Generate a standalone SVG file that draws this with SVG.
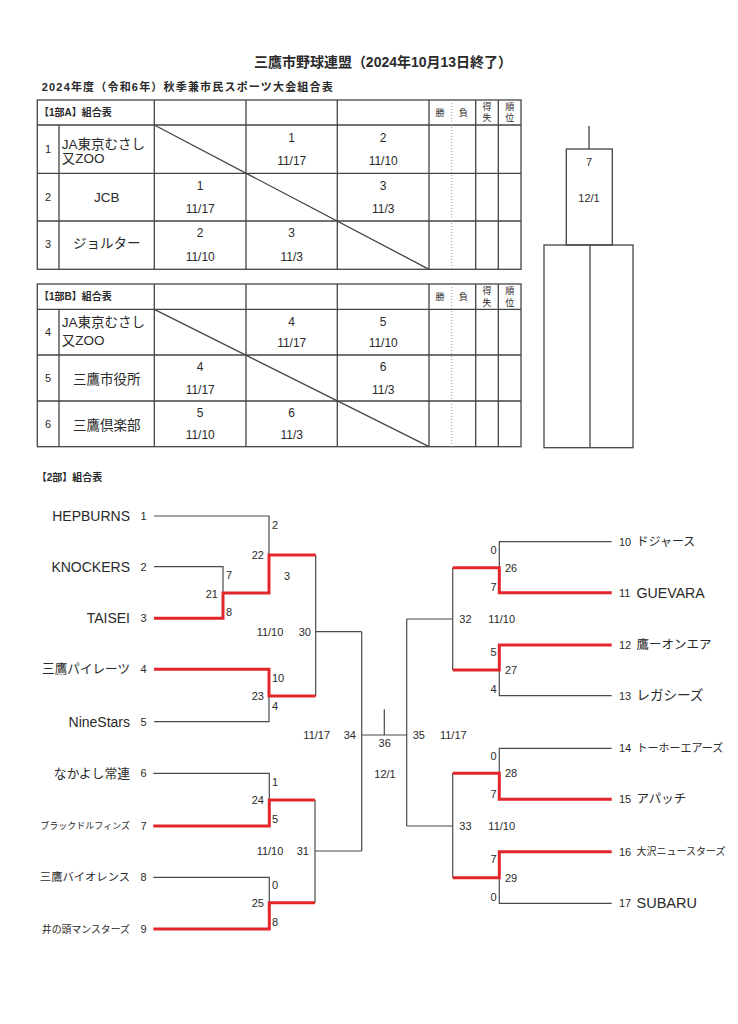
<svg xmlns="http://www.w3.org/2000/svg" width="738" height="1024" viewBox="0 0 738 1024">
<style>
text { font-family: "Liberation Sans", "Noto Sans CJK JP", sans-serif; fill: #2a2a2a; dominant-baseline: central; }
.h { font-weight: bold; }
.nm { font-size: 13.5px; }
.num { font-size: 11px; }
.cell { font-size: 12px; text-anchor: middle; }
.hd { font-size: 9px; text-anchor: middle; }
.mid { text-anchor: middle; }
.end { text-anchor: end; }
.ln { stroke: #4a4a4a; stroke-width: 1.2; fill: none; }
.tb { stroke: #444; stroke-width: 1.3; fill: none; }
.dot { stroke: #999; stroke-width: 1; stroke-dasharray: 1 2; fill: none; }
.red { stroke: #e3262b; stroke-width: 3; fill: none; }
</style>
<rect width="738" height="1024" fill="#fff"/>

<g id="title">
  <text class="h" x="512" y="61.7" font-size="14" text-anchor="end" textLength="258" lengthAdjust="spacing">三鷹市野球連盟（2024年10月13日終了）</text>
  <text class="h" x="41.7" y="86.7" font-size="11" textLength="291" lengthAdjust="spacing">2024年度（令和6年）秋季兼市民スポーツ大会組合表</text>
</g>

<g id="table-1A">
  <rect class="tb" x="37.3" y="100" width="483.7" height="169.3"/>
  <path class="tb" d="M37.3 125H521M37.3 173.3H521M37.3 221H521M59 125V269.3M154.3 100V269.3M246 100V269.3M337.3 100V269.3M429 100V269.3M475.7 100V269.3M498.3 100V269.3"/>
  <path class="dot" d="M451.7 100V269.3"/>
  <path class="tb" d="M154.3 125L429 269.3"/>
  <text class="h" x="39" y="112.7" font-size="10">【1部A】組合表</text>
  <text class="hd" x="440" y="112.5">勝</text>
  <text class="hd" x="463.5" y="112.5">負</text>
  <text class="hd" x="487" y="106.7">得</text>
  <text class="hd" x="487" y="118.3">失</text>
  <text class="hd" x="509.7" y="106.7">順</text>
  <text class="hd" x="509.7" y="118.3">位</text>
  <text class="num mid" x="48" y="149">1</text>
  <text class="nm" x="61.7" y="144">JA東京むさし</text>
  <text class="nm" x="61.7" y="158">又ZOO</text>
  <text class="cell" x="291.7" y="137.7">1</text>
  <text class="cell" x="291.7" y="160.7">11/17</text>
  <text class="cell" x="383.2" y="137.7">2</text>
  <text class="cell" x="383.2" y="160.7">11/10</text>
  <text class="num mid" x="48" y="197.3">2</text>
  <text class="nm mid" x="106.7" y="197.3">JCB</text>
  <text class="cell" x="200.2" y="185.7">1</text>
  <text class="cell" x="200.2" y="209.3">11/17</text>
  <text class="cell" x="383.2" y="185.7">3</text>
  <text class="cell" x="383.2" y="209.3">11/3</text>
  <text class="num mid" x="48" y="244">3</text>
  <text class="nm mid" x="106.7" y="243.3">ジョルター</text>
  <text class="cell" x="200.2" y="233.3">2</text>
  <text class="cell" x="200.2" y="257.3">11/10</text>
  <text class="cell" x="291.7" y="233.3">3</text>
  <text class="cell" x="291.7" y="257.3">11/3</text>
</g>

<g id="table-1B">
  <rect class="tb" x="37.3" y="284" width="483.7" height="162.7"/>
  <path class="tb" d="M37.3 309.3H521M37.3 355H521M37.3 401H521M59 309.3V446.7M154.3 284V446.7M246 284V446.7M337.3 284V446.7M429 284V446.7M475.7 284V446.7M498.3 284V446.7"/>
  <path class="dot" d="M451.7 284V446.7"/>
  <path class="tb" d="M154.3 309.3L429 446.7"/>
  <text class="h" x="39" y="296.7" font-size="10">【1部B】組合表</text>
  <text class="hd" x="440" y="296.7">勝</text>
  <text class="hd" x="463.5" y="296.7">負</text>
  <text class="hd" x="487" y="291.2">得</text>
  <text class="hd" x="487" y="302.8">失</text>
  <text class="hd" x="509.7" y="291.2">順</text>
  <text class="hd" x="509.7" y="302.8">位</text>
  <text class="num mid" x="48" y="332">4</text>
  <text class="nm" x="61.7" y="322">JA東京むさし</text>
  <text class="nm" x="61.7" y="340.5">又ZOO</text>
  <text class="cell" x="291.7" y="321.7">4</text>
  <text class="cell" x="291.7" y="343.3">11/17</text>
  <text class="cell" x="383.2" y="321.7">5</text>
  <text class="cell" x="383.2" y="343.3">11/10</text>
  <text class="num mid" x="48" y="378">5</text>
  <text class="nm mid" x="106.7" y="379">三鷹市役所</text>
  <text class="cell" x="200.2" y="367.3">4</text>
  <text class="cell" x="200.2" y="390">11/17</text>
  <text class="cell" x="383.2" y="367.3">6</text>
  <text class="cell" x="383.2" y="390">11/3</text>
  <text class="num mid" x="48" y="424">6</text>
  <text class="nm mid" x="106.7" y="425">三鷹倶楽部</text>
  <text class="cell" x="200.2" y="413.3">5</text>
  <text class="cell" x="200.2" y="435">11/10</text>
  <text class="cell" x="291.7" y="413.3">6</text>
  <text class="cell" x="291.7" y="435">11/3</text>
</g>

<g id="final-1">
  <path class="tb" d="M589 126V149"/>
  <rect class="tb" x="566.3" y="149" width="46" height="96"/>
  <rect class="tb" x="544" y="245" width="89" height="202.7"/>
  <path class="tb" d="M590 245V447.7"/>
  <text class="num mid" x="589" y="162">7</text>
  <text class="num mid" x="589" y="198">12/1</text>
</g>

<g id="title-2">
  <text class="h" x="36.7" y="477" font-size="10">【2部】組合表</text>
</g>

<g id="connectors">
  <path class="ln" d="M154 516H269V555M154 566.7H223V593M154 721.7H269V696M315.7 555V696M315.7 631.7H361.7M153.3 773.3H269.3V800M153.3 877.3H269.3V902.7M315 800V902.7M315 851H361.7M361.7 631.7V851M361.7 735H406.7M384.3 709.3V735M406.7 619V826M406.7 619H452.7M406.7 826H452.7M452.7 567.7V670M452.7 773.3V877.7M611.7 541.7H499.3V567.7M611.7 695.7H499.3V670M611.7 748.3H499.3V773.3M611.7 903.3H499.3V877.7"/>
  <path class="red" d="M154 618.3H223V593H269V555H315.7M154 669.3H269V696H315.7M153.3 826H269.3V800H315M153.3 929H269.3V902.7H315M611.7 592.7H499.3V567.7H452.7M611.7 645H499.3V670H452.7M611.7 799.3H499.3V773.3H452.7M611.7 851.7H499.3V877.7H452.7"/>
</g>

<g id="team-1"><text class="end" x="130" y="516" font-size="14">HEPBURNS</text><text class="num mid" x="143.5" y="516">1</text></g>
<g id="team-2"><text class="end" x="130" y="566.7" font-size="14">KNOCKERS</text><text class="num mid" x="143.5" y="566.7">2</text></g>
<g id="team-3"><text class="end" x="130" y="618.3" font-size="14">TAISEI</text><text class="num mid" x="143.5" y="618.3">3</text></g>
<g id="team-4"><text class="end" x="130" y="669.3" font-size="12.6">三鷹パイレーツ</text><text class="num mid" x="143.5" y="669.3">4</text></g>
<g id="team-5"><text class="end" x="130" y="721.7" font-size="14">NineStars</text><text class="num mid" x="143.5" y="721.7">5</text></g>
<g id="team-6"><text class="end" x="130" y="773.3" font-size="12.8">なかよし常連</text><text class="num mid" x="143.5" y="773.3">6</text></g>
<g id="team-7"><text class="end" x="130" y="826" font-size="9">ブラックドルフィンズ</text><text class="num mid" x="143.5" y="826">7</text></g>
<g id="team-8"><text class="end" x="130" y="877.3" font-size="11.3">三鷹バイオレンス</text><text class="num mid" x="143.5" y="877.3">8</text></g>
<g id="team-9"><text class="end" x="130" y="929" font-size="9.9">井の頭マンスターズ</text><text class="num mid" x="143.5" y="929">9</text></g>

<g id="team-10"><text class="num" x="619" y="541.7">10</text><text x="636.5" y="541.7" font-size="12">ドジャース</text></g>
<g id="team-11"><text class="num" x="619" y="592.7">11</text><text x="636.5" y="592.7" font-size="14.2">GUEVARA</text></g>
<g id="team-12"><text class="num" x="619" y="645">12</text><text x="636.5" y="645" font-size="12.5">鷹ーオンエア</text></g>
<g id="team-13"><text class="num" x="619" y="695.7">13</text><text x="636.5" y="695.7" font-size="13.5">レガシーズ</text></g>
<g id="team-14"><text class="num" x="619" y="748.3">14</text><text x="636.5" y="748.3" font-size="11">トーホーエアーズ</text></g>
<g id="team-15"><text class="num" x="619" y="799.3">15</text><text x="636.5" y="799.3" font-size="12.5">アパッチ</text></g>
<g id="team-16"><text class="num" x="619" y="851.7">16</text><text x="636.5" y="851.7" font-size="10">大沢ニュースターズ</text></g>
<g id="team-17"><text class="num" x="619" y="903.3">17</text><text x="636.5" y="903.3" font-size="14.5">SUBARU</text></g>

<g id="match-21"><text class="num" x="226" y="575">7</text><text class="num end" x="218" y="594">21</text><text class="num" x="226" y="611.7">8</text></g>
<g id="match-22"><text class="num" x="272" y="525">2</text><text class="num end" x="264" y="555">22</text><text class="num" x="284" y="575.7">3</text></g>
<g id="match-23"><text class="num" x="272" y="677.7">10</text><text class="num end" x="264" y="696">23</text><text class="num" x="272" y="706">4</text></g>
<g id="match-30"><text class="num mid" x="270" y="631.7">11/10</text><text class="num end" x="311" y="631.7">30</text></g>
<g id="match-24"><text class="num" x="272" y="782">1</text><text class="num end" x="264" y="800">24</text><text class="num" x="272" y="819">5</text></g>
<g id="match-25"><text class="num" x="272" y="885">0</text><text class="num end" x="264" y="902.7">25</text><text class="num" x="272" y="922">8</text></g>
<g id="match-31"><text class="num mid" x="270" y="851">11/10</text><text class="num end" x="309" y="851">31</text></g>
<g id="match-34"><text class="num mid" x="316.7" y="735">11/17</text><text class="num end" x="356" y="735">34</text></g>
<g id="match-36"><text class="num mid" x="384.7" y="742.7">36</text><text class="num mid" x="385" y="774">12/1</text></g>
<g id="match-35"><text class="num" x="412.7" y="735">35</text><text class="num mid" x="453.3" y="735">11/17</text></g>
<g id="match-26"><text class="num end" x="496.7" y="550">0</text><text class="num" x="505" y="567.7">26</text><text class="num end" x="496.7" y="586.7">7</text></g>
<g id="match-32"><text class="num" x="459.3" y="619">32</text><text class="num mid" x="501.7" y="619">11/10</text></g>
<g id="match-27"><text class="num end" x="496.7" y="652.3">5</text><text class="num" x="505" y="670">27</text><text class="num end" x="496.7" y="689.3">4</text></g>
<g id="match-28"><text class="num end" x="496.7" y="756">0</text><text class="num" x="505" y="773.3">28</text><text class="num end" x="496.7" y="794">7</text></g>
<g id="match-33"><text class="num" x="459.3" y="826">33</text><text class="num mid" x="501.7" y="826">11/10</text></g>
<g id="match-29"><text class="num end" x="496.7" y="859.3">7</text><text class="num" x="505" y="877.7">29</text><text class="num end" x="496.7" y="896.7">0</text></g>
</svg>
